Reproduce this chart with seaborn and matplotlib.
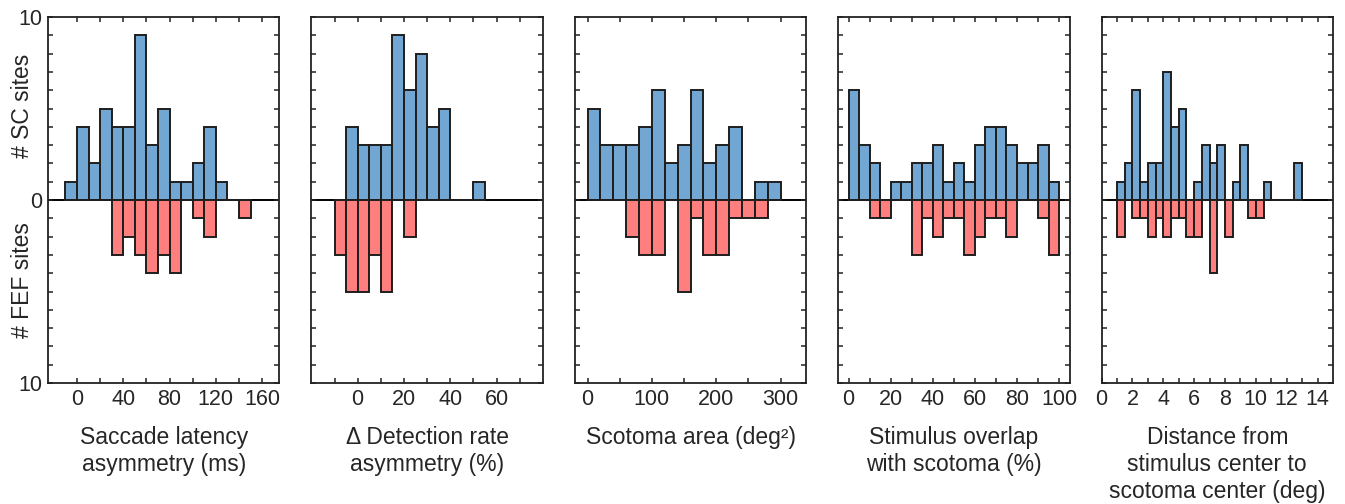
import numpy as np
import pandas as pd
import seaborn as sns
import matplotlib.pyplot as plt
from matplotlib.ticker import FixedLocator, FuncFormatter

# bin counts (SC sites above zero, FEF sites below)
latency_edges = np.arange(-10, 151, 10)
latency_sc = [1, 4, 2, 5, 4, 4, 9, 3, 5, 1, 1, 2, 4, 1, 0, 0]
latency_fef = [0, 0, 0, 0, 3, 2, 3, 4, 3, 4, 0, 1, 2, 0, 0, 1]

detect_edges = np.arange(-10, 56, 5)
detect_sc = [0, 4, 3, 3, 3, 9, 6, 8, 4, 5, 0, 0, 1]
detect_fef = [3, 5, 5, 3, 5, 0, 2, 0, 0, 0, 0, 0, 0]

area_edges = np.arange(0, 301, 20)
area_sc = [5, 3, 3, 3, 4, 6, 2, 3, 6, 2, 3, 4, 0, 1, 1]
area_fef = [0, 0, 0, 2, 3, 3, 0, 5, 1, 3, 3, 1, 1, 1, 0]

overlap_edges = np.arange(0, 101, 5)
overlap_sc = [6, 3, 2, 0, 1, 1, 2, 2, 3, 1, 2, 1, 3, 4, 4, 3, 2, 2, 3, 1]
overlap_fef = [0, 0, 1, 1, 0, 0, 3, 1, 2, 1, 1, 3, 2, 1, 1, 2, 0, 0, 1, 3]

dist_edges = np.arange(1.0, 13.01, 0.5)
dist_sc = [1, 2, 6, 1, 2, 2, 7, 4, 5, 0, 1, 3, 2, 3, 0, 1, 3, 0, 0, 1, 0, 0, 0, 2]
dist_fef = [2, 0, 1, 1, 2, 1, 2, 1, 1, 2, 2, 0, 4, 0, 2, 0, 0, 1, 1, 0, 0, 0, 0, 0]

xlabels = ['Saccade latency\nasymmetry (ms)', '\u0394 Detection rate\nasymmetry (%)',
           'Scotoma area (deg\u00b2)', 'Stimulus overlap\nwith scotoma (%)',
           'Distance from\nstimulus center to\nscotoma center (deg)']

panels = [
    (latency_edges, latency_sc, latency_fef, (-25, 175), [0, 40, 80, 120, 160], np.arange(0, 161, 20)),
    (detect_edges, detect_sc, detect_fef, (-20, 80), [0, 20, 40, 60], np.arange(-10, 71, 10)),
    (area_edges, area_sc, area_fef, (-20, 340), [0, 100, 200, 300], np.arange(0, 301, 50)),
    (overlap_edges, overlap_sc, overlap_fef, (-5, 105), [0, 20, 40, 60, 80, 100], np.arange(0, 101, 10)),
    (dist_edges, dist_sc, dist_fef, (0, 15), [0, 2, 4, 6, 8, 10, 12, 14], np.arange(1, 15, 1)),
]

sns.set_style("ticks")
plt.rcParams['font.family'] = ['Liberation Sans', 'DejaVu Sans']

blue = '#72a7d3'
red = '#ff7f7f'
edge = '#1e1e1e'

fig, axes = plt.subplots(1, 5, figsize=(13.45, 5.04), dpi=100)
fig.subplots_adjust(left=48 / 1345, right=1333 / 1345, bottom=1 - 383 / 504, top=1 - 17 / 504, wspace=0.138)

for i, (ax, (edges, sc, fef, xlim, major, minor)) in enumerate(zip(axes, panels)):
    centers = (edges[:-1] + edges[1:]) / 2
    df = pd.DataFrame({'x': centers, 'sc': sc, 'fef': -np.array(fef)})

    sns.histplot(data=df, x='x', weights='sc', bins=list(edges), color=blue, alpha=1,
                 edgecolor=edge, linewidth=1.4, ax=ax)
    sns.histplot(data=df, x='x', weights='fef', bins=list(edges), color=red, alpha=1,
                 edgecolor=edge, linewidth=1.4, ax=ax)
    ax.axhline(0, color='black', lw=1.4, zorder=0.5)

    ax.set_xlim(*xlim)
    ax.set_ylim(-10, 10)
    ax.xaxis.set_major_locator(FixedLocator(major))
    ax.xaxis.set_minor_locator(FixedLocator(minor))
    ax.yaxis.set_major_locator(FixedLocator([-10, 0, 10]))
    ax.yaxis.set_minor_locator(FixedLocator(np.arange(-9, 10, 1)))
    ax.yaxis.set_major_formatter(FuncFormatter(lambda v, p: f'{abs(int(v))}'))

    ax.tick_params(which='both', direction='in', top=True, right=True, length=3.5, width=1.1,
                   color='#222222', labelsize=15.5, pad=4)
    for s in ax.spines.values():
        s.set_linewidth(1.3)
        s.set_color('#222222')

    ax.set_xlabel(xlabels[i], fontsize=16.5, labelpad=12, linespacing=1.22)
    ax.set_ylabel('')
    if i == 0:
        ax.text(-0.112, 0.757, '# SC sites', rotation=90, transform=ax.transAxes,
                ha='center', va='center', fontsize=16.5)
        ax.text(-0.112, 0.28, '# FEF sites', rotation=90, transform=ax.transAxes,
                ha='center', va='center', fontsize=16.5)
    else:
        ax.tick_params(axis='y', labelleft=False)

fig.savefig('out.png', dpi=100)
